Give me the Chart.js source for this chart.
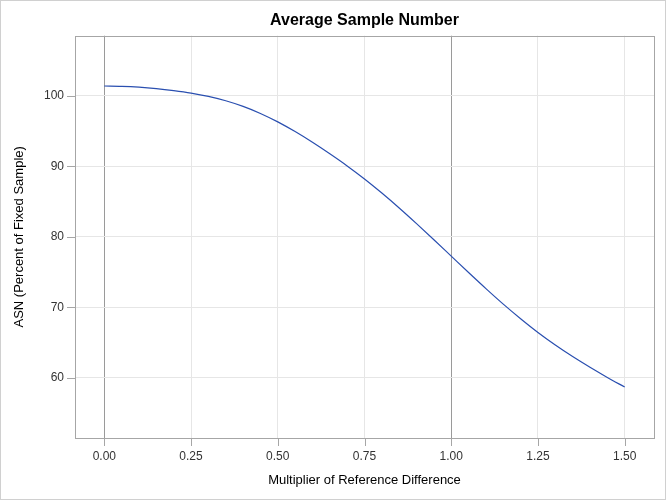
<!DOCTYPE html>
<html><head><meta charset="utf-8">
<script src="https://cdn.jsdelivr.net/npm/chart.js@4/dist/chart.umd.min.js"></script>
<style>html,body{margin:0;padding:0;background:#fff}#wrap{width:666px;height:500px}</style>
</head><body><div id="wrap"><canvas id="c" width="666" height="500"></canvas></div>
<script>
const multipliers = [0,0.05,0.10,0.15,0.20,0.25,0.30,0.35,0.40,0.45,0.50,0.55,0.60,0.65,0.70,0.75,0.80,0.85,0.90,0.95,1.00,1.05,1.10,1.15,1.20,1.25,1.30,1.35,1.40,1.45,1.50];
const asn = [101.4,101.35,101.23,101.03,100.75,100.40,99.93,99.31,98.51,97.51,96.31,94.93,93.41,91.78,90.06,88.21,86.21,84.09,81.87,79.59,77.26,74.93,72.65,70.45,68.38,66.43,64.65,63.01,61.49,60.05,58.68];
const xTicks = [0,0.25,0.5,0.75,1.0,1.25,1.5];
const yTicks = [60,70,80,90,100];
const refLines = [0,1];

const frame = {
  id:'frame',
  afterDraw(chart){
    const {ctx, chartArea:a} = chart;
    const xs = chart.scales.x, ys = chart.scales.y;
    ctx.save();
    ctx.strokeStyle='#a6a6a6'; ctx.lineWidth=1;
    ctx.strokeRect(Math.round(a.left)+0.5, Math.round(a.top)+0.5, Math.round(a.right-a.left), Math.round(a.bottom-a.top));
    ctx.beginPath();
    xTicks.forEach(v=>{ const px=Math.round(xs.getPixelForValue(v))+0.5; ctx.moveTo(px, Math.round(a.bottom)); ctx.lineTo(px, Math.round(a.bottom)+8); });
    yTicks.forEach(v=>{ const py=Math.round(ys.getPixelForValue(v))+0.5; ctx.moveTo(Math.round(a.left)-8, py); ctx.lineTo(Math.round(a.left), py); });
    ctx.stroke();
    ctx.strokeStyle='#d0d0d0';
    ctx.strokeRect(0.5,0.5,665,499);
    ctx.restore();
  }
};

new Chart(document.getElementById('c'), {
  type:'line',
  data:{datasets:[{data:multipliers.map((x,i)=>({x:x,y:asn[i]})), borderColor:'#2a4fb0', borderWidth:1.2, pointRadius:0, cubicInterpolationMode:'monotone', fill:false}]},
  options:{
    responsive:false, animation:false,
    layout:{padding:{left:0,right:12,top:0,bottom:0}},
    plugins:{
      legend:{display:false}, tooltip:{enabled:false},
      title:{display:true, fullSize:false, text:'Average Sample Number', color:'#000', font:{family:'Liberation Sans, Arial, sans-serif', size:16, weight:'bold'}, padding:{top:11,bottom:5.5}}
    },
    scales:{
      x:{type:'linear', min:-0.0845, max:1.5845,
        afterBuildTicks(s){ s.ticks = xTicks.map(v=>({value:v})); },
        afterFit(s){ s.height = 62; },
        border:{display:false},
        grid:{color:(c)=> refLines.includes(c.tick && c.tick.value) ? '#9a9a9a' : '#e6e6e6', drawTicks:false, tickLength:8},
        ticks:{color:'#333', font:{family:'Liberation Sans, Arial, sans-serif', size:12}, padding:11, maxRotation:0, callback:(v)=>Number(v).toFixed(2)},
        title:{display:true, text:'Multiplier of Reference Difference', color:'#000', font:{family:'Liberation Sans, Arial, sans-serif', size:13}, padding:{top:6,bottom:12}}
      },
      y:{type:'linear', min:51.45, max:108.54,
        afterBuildTicks(s){ s.ticks = yTicks.map(v=>({value:v})); },
        afterFit(s){ s.width = 75; },
        border:{display:false},
        grid:{color:'#e6e6e6', drawTicks:false, tickLength:8},
        ticks:{color:'#333', font:{family:'Liberation Sans, Arial, sans-serif', size:12}, padding:11},
        title:{display:true, text:'ASN (Percent of Fixed Sample)', color:'#000', font:{family:'Liberation Sans, Arial, sans-serif', size:13}, padding:{top:12,bottom:6}}
      }
    }
  },
  plugins:[frame]
});
</script></body></html>
